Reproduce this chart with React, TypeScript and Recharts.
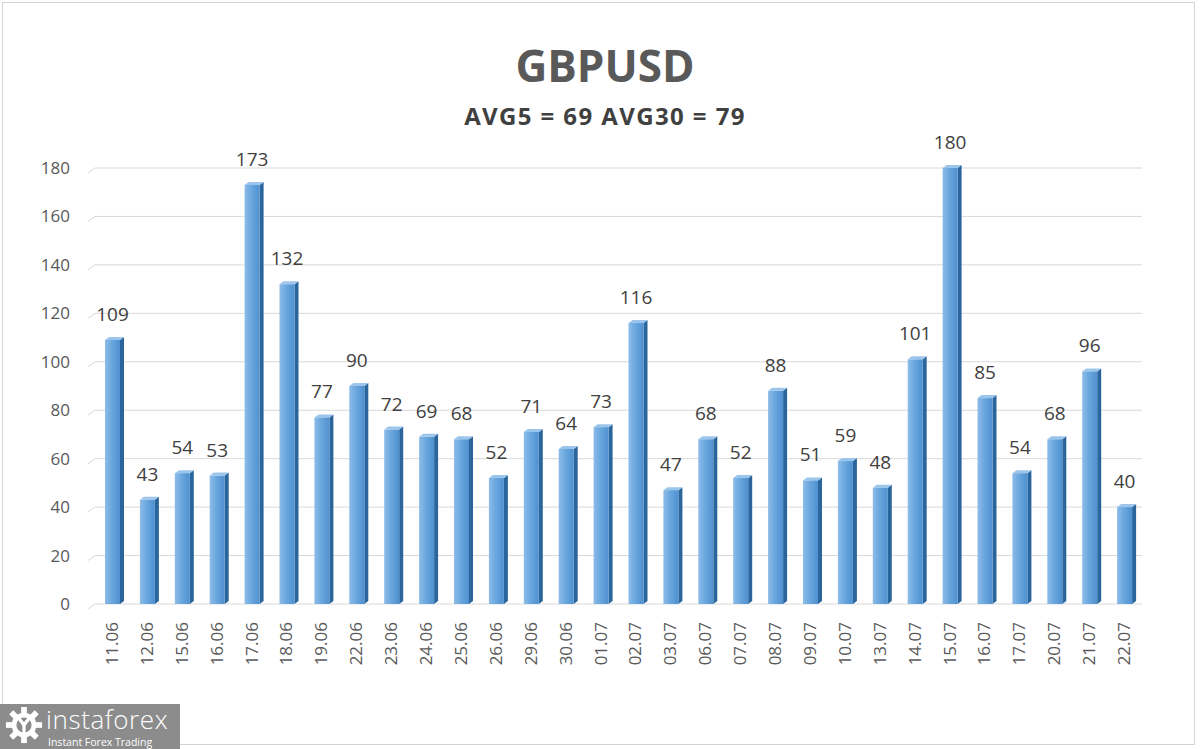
import React from 'react';
import { BarChart, Bar, XAxis, YAxis, CartesianGrid, LabelList } from 'recharts';

const dates = [
  '11.06', '12.06', '15.06', '16.06', '17.06', '18.06', '19.06', '22.06', '23.06', '24.06',
  '25.06', '26.06', '29.06', '30.06', '01.07', '02.07', '03.07', '06.07', '07.07', '08.07',
  '09.07', '10.07', '13.07', '14.07', '15.07', '16.07', '17.07', '20.07', '21.07', '22.07',
];
const volatility = [
  109, 43, 54, 53, 173, 132, 77, 90, 72, 69,
  68, 52, 71, 64, 73, 116, 47, 68, 52, 88,
  51, 59, 48, 101, 180, 85, 54, 68, 96, 40,
];
const yTicks = [0, 20, 40, 60, 80, 100, 120, 140, 160, 180];

const title = 'GBPUSD';
const subtitle = 'AVG5 = 69 AVG30 = 79';

const data = dates.map((d, i) => ({ date: d, value: volatility[i] }));

const FONT = '"Open Sans", "Noto Sans", sans-serif';

// 3D-ish column like the Excel original: front face, dark right side, light top
function Column3D(props: any) {
  const { x, y, width, height } = props;
  if (!height || height <= 0) return null;
  const dx = 4;
  const dy = 3;
  return (
    <g>
      <polygon
        points={`${x + width},${y} ${x + width + dx},${y - dy} ${x + width + dx},${y + height - dy} ${x + width},${y + height}`}
        fill="#2a659c"
      />
      <polygon
        points={`${x},${y} ${x + dx},${y - dy} ${x + width + dx},${y - dy} ${x + width},${y}`}
        fill="#9cc5ec"
      />
      <rect x={x} y={y} width={width} height={height} fill="url(#colFront)" />
    </g>
  );
}

function gridLine(props: any) {
  const { x1, x2, y1, key } = props;
  return (
    <g key={key}>
      <line x1={x1} y1={y1} x2={x2} y2={y1} stroke="#d9d9d9" strokeWidth={1} />
      <line x1={x1 - 7} y1={y1 + 5} x2={x1} y2={y1} stroke="#d9d9d9" strokeWidth={1} />
    </g>
  );
}

function DateTick(props: any) {
  const { x, y, payload } = props;
  return (
    <text
      x={x - 1}
      y={y}
      transform={`rotate(-90 ${x - 1} ${y})`}
      textAnchor="end"
      dominantBaseline="central"
      fill="#595959"
      fontSize={17}
      fontFamily={FONT}
    >
      {payload.value}
    </text>
  );
}

function Gear() {
  const teeth = Array.from({ length: 8 }, (_, i) => i * 45);
  return (
    <svg width={38} height={38} viewBox="0 0 40 40">
      {teeth.map((a) => (
        <rect key={a} x={17} y={1} width={6} height={8} fill="#fff" transform={`rotate(${a} 20 20)`} />
      ))}
      <circle cx={20} cy={20} r={13} fill="#fff" />
      <circle cx={20} cy={20} r={8} fill="#8c8c8c" />
      <path d="M14 12 L20 20 L26 12" stroke="#fff" strokeWidth={3.5} fill="none" />
      <rect x={18.3} y={19} width={3.4} height={16} fill="#fff" />
    </svg>
  );
}

export default function App() {
  return (
    <div style={{ position: 'absolute', left: 0, top: 0, width: 1200, height: 749, background: '#fff', overflow: 'hidden' }}>
      <div
        style={{
          position: 'absolute', left: 2, top: 2, width: 1193, height: 743,
          border: '1px solid #d4d4d4', boxSizing: 'border-box',
        }}
      />
      <div
        style={{
          position: 'absolute', left: 0, width: 1210, top: 38, textAlign: 'center',
          fontFamily: FONT, fontWeight: 700, fontSize: 44, color: '#595959', lineHeight: '54px',
        }}
      >
        {title}
      </div>
      <div
        style={{
          position: 'absolute', left: 0, width: 1210, top: 101, textAlign: 'center',
          fontFamily: FONT, fontWeight: 700, fontSize: 24, letterSpacing: 1.4, color: '#404040', lineHeight: '30px',
        }}
      >
        {subtitle}
      </div>

      <div style={{ position: 'absolute', left: 0, top: 0 }}>
        <BarChart width={1200} height={749} data={data} margin={{ top: 168, right: 58, bottom: 65, left: 35 }}>
          <defs>
            <linearGradient id="colFront" x1="0" y1="0" x2="1" y2="0">
              <stop offset="0%" stopColor="#8dbce9" />
              <stop offset="45%" stopColor="#6aa7de" />
              <stop offset="100%" stopColor="#4f90d0" />
            </linearGradient>
          </defs>
          <CartesianGrid vertical={false} horizontal={gridLine} />
          <XAxis
            dataKey="date"
            interval={0}
            height={80}
            axisLine={false}
            tickLine={false}
            tickSize={0}
            tickMargin={18}
            tick={<DateTick />}
          />
          <YAxis
            domain={[0, 180]}
            ticks={yTicks}
            width={60}
            axisLine={false}
            tickLine={false}
            tickSize={0}
            tickMargin={25}
            tick={{ fill: '#595959', fontSize: 17, fontFamily: FONT }}
          />
          <Bar dataKey="value" barSize={15} shape={<Column3D />} isAnimationActive={false}>
            <LabelList
              dataKey="value"
              position="top"
              offset={19}
              fill="#404040"
              fontSize={19}
              fontFamily={FONT}
            />
          </Bar>
        </BarChart>
      </div>

      <div
        style={{
          position: 'absolute', left: 0, top: 704, width: 180, height: 45, background: '#8c8c8c',
          color: '#fff', fontFamily: FONT,
        }}
      >
        <div style={{ position: 'absolute', left: 5, top: 2 }}>
          <Gear />
        </div>
        <div style={{ position: 'absolute', left: 46, top: 2, fontSize: 26, fontWeight: 300, lineHeight: '26px', letterSpacing: 0.6 }}>
          instaforex
        </div>
        <div style={{ position: 'absolute', left: 48, top: 32, fontSize: 10.5, lineHeight: '12px' }}>
          Instant Forex Trading
        </div>
      </div>
    </div>
  );
}
